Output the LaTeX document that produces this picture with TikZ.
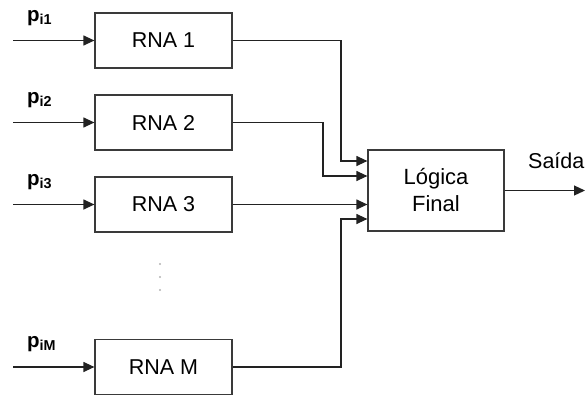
\documentclass[tikz,border=0pt]{standalone}
\usepackage{fontspec}
\setmainfont{Liberation Sans}
\usetikzlibrary{arrows.meta,positioning,calc}
\definecolor{boxline}{HTML}{3A3A3A}
\definecolor{wirec}{HTML}{222222}
\tikzset{
  rnabox/.style={draw=boxline, line width=1.2pt, fill=white, minimum width=137pt,
                 minimum height=55pt, inner sep=0pt, font=\fontsize{21.5}{24}\selectfont},
  logbox/.style={draw=boxline, line width=1.2pt, fill=white, minimum width=136pt,
                 minimum height=81pt, inner sep=0pt, align=center,
                 font=\fontsize{22}{27}\selectfont},
  inlbl/.style={anchor=base west, inner sep=0pt, font=\fontsize{20.5}{24}\selectfont\bfseries},
  outlbl/.style={anchor=base west, inner sep=0pt, font=\fontsize{21.5}{24}\selectfont},
  arr/.style={-{Triangle[length=11pt,width=10pt]}, line width=1.2pt, color=wirec},
  dotc/.style={fill=black!30}}

\begin{document}
\begin{tikzpicture}[x=1pt, y=-1pt]
    \useasboundingbox (0,0) rectangle (587,399);
    % the networks
    \node[rnabox] (rna1) at (163.5,40.5) {RNA 1};
    \node[rnabox] (rna2) at (163.5,122.5) {RNA 2};
    \node[rnabox] (rna3) at (163.5,204.5) {RNA 3};
    \node[rnabox] (rnam) at (163.5,367) {RNA M};
    \node[logbox] (logic) at (436,190.5) {L\'ogica\\Final};
    % inputs
    \node[inlbl] (p1) at (27,21) {p\textsubscript{i1}};
    \node[inlbl] (p2) at (27,103) {p\textsubscript{i2}};
    \node[inlbl] (p3) at (27,185) {p\textsubscript{i3}};
    \node[inlbl] (pm) at (27,347.5) {p\textsubscript{iM}};
    \coordinate (in1) at (13,40.5);
    \coordinate (in2) at (13,122.5);
    \coordinate (in3) at (13,204.5);
    \coordinate (inm) at (13,367);
    \draw[arr] (in1) -- (rna1.west);
    \draw[arr] (in2) -- (rna2.west);
    \draw[arr] (in3) -- (rna3.west);
    \draw[arr] (inm) -- (rnam.west);
    \foreach \y in {264,277,290}
      \fill[dotc] (160,\y) circle (1.1pt);
    % into the final logic
    \coordinate (j1) at (341,161);
    \coordinate (j2) at (323,176);
    \coordinate (jm) at (341,219);
    \draw[arr] (rna1.east) -| (j1) -- (j1 -| logic.west);
    \draw[arr] (rna2.east) -| (j2) -- (j2 -| logic.west);
    \draw[arr] (rna3.east) -- (rna3.east -| logic.west);
    \draw[arr] (rnam.east) -| (jm) -- (jm -| logic.west);
    % output
    \coordinate (out) at (585,190.5);
    \draw[arr] (logic.east) -- (out);
    \node[outlbl] (sai) at (528,168) {Sa\'ida};
  \end{tikzpicture}
\end{document}
